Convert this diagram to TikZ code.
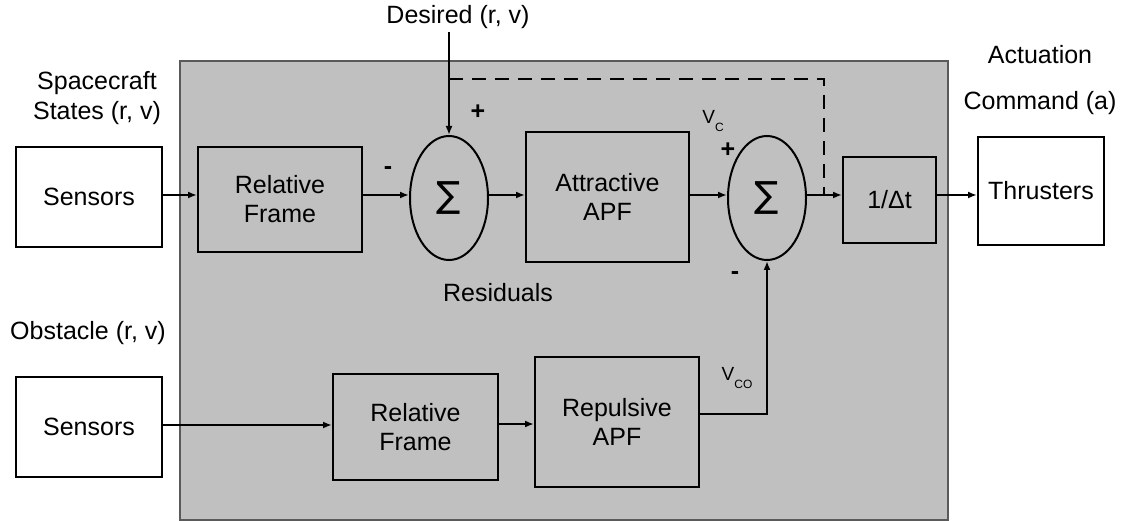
\documentclass[tikz,border=0pt]{standalone}
\usepackage{fontspec}
\setmainfont{Liberation Sans}
\newfontfamily\sigmafont{DejaVu Sans}
\usetikzlibrary{shapes.geometric,arrows.meta}

\definecolor{panel}{HTML}{C0C0C0}
\definecolor{panelrule}{HTML}{5A5A5A}

\tikzset{
  lbl/.style={font=\fontsize{25}{30}\selectfont, inner sep=0pt, align=center},
  blockbox/.style={draw, line width=2pt, font=\fontsize{25}{29}\selectfont, align=center, inner sep=0pt},
  sumnode/.style={draw, ellipse, line width=2pt, minimum width=78pt, minimum height=124pt, inner sep=0pt,
                  font=\sigmafont\fontsize{36}{36}\selectfont},
  sign/.style={font=\bfseries\fontsize{25}{25}\selectfont, inner sep=0pt},
  arr/.style={line width=2pt, -{Latex[length=9pt,width=7pt]}},
  wire/.style={line width=2pt},
  fb/.style={line width=2.5pt, dash pattern=on 14pt off 9pt}
}

\newcommand{\velsub}[1]{{\fontsize{19}{19}\selectfont V}\raisebox{-8pt}{\fontsize{12}{12}\selectfont #1}}

\begin{document}
\begin{tikzpicture}[x=1pt, y=-1pt]
  \useasboundingbox (0,0) rectangle (1125,521);

  % controller panel
  \fill[panel, draw=panelrule, line width=1.3pt] (180,61) rectangle (948,520);

  % signal row of the upper loop
  \coordinate (row) at (0,195);

  % upper path blocks
  \node[blockbox, fill=white, minimum width=146pt, minimum height=100pt] (s1) at (89,197) {Sensors};
  \node[blockbox, minimum width=164pt, minimum height=105pt] (rf1) at (280,199.5) {Relative\\Frame};
  \node[sumnode] (sum1) at (449,198) {∑};
  \node[blockbox, minimum width=163pt, minimum height=130pt] (apf) at (607.5,197) {Attractive\\APF};
  \node[sumnode] (sum2) at (767,198) {∑};
  \node[blockbox, minimum width=93pt, minimum height=86pt] (dt) at (889.5,200) {1/Δt};
  \node[blockbox, fill=white, minimum width=126pt, minimum height=108pt] (thr) at (1041,191) {Thrusters};

  % lower path blocks
  \node[blockbox, fill=white, minimum width=146pt, minimum height=100pt] (s2) at (89,427) {Sensors};
  \node[blockbox, minimum width=165pt, minimum height=105pt] (rf2) at (415.5,427) {Relative\\Frame};
  \node[blockbox, minimum width=164pt, minimum height=130pt] (rep) at (617,422) {Repulsive\\APF};

  % text labels
  \node[lbl] (scst) at (97,98) {Spacecraft\\States (r, v)};
  \node[lbl] (obst) at (88,333) {Obstacle (r, v)};
  \node[lbl] (des) at (458,17) {Desired (r, v)};
  \node[lbl, align=center] (act) at (1040,80) {Actuation\\[16pt]Command (a)};
  \node[lbl] (resid) at (498,293) {Residuals};
  \node[inner sep=0pt] (vc) at (713,121) {\velsub{C}};
  \node[inner sep=0pt] (vco) at (737,378) {\velsub{CO}};

  % signs at the summing junctions
  \node[sign] (p1) at (478,112) {+};
  \node[sign] (m1) at (388,171) {-};
  \node[sign] (p2) at (728,150) {+};
  \node[sign] (m2) at (735,276) {-};

  % upper path connectors
  \draw[arr] (s1.east |- row) -- (rf1.west |- row);
  \draw[arr] (rf1.east |- row) -- (sum1.west |- row);
  \draw[arr] (sum1.east |- row) -- (apf.west |- row);
  \draw[arr] (apf.east |- row) -- (sum2.west |- row);
  \draw[arr] (sum2.east |- row) -- (dt.west |- row);
  \draw[arr] (dt.east |- row) -- (thr.west |- row);

  % desired state input
  \coordinate (desin) at (449,32);
  \draw[arr] (desin) -- (sum1.north);

  % feed-forward of the desired state
  \coordinate (tapA) at (449,79);
  \coordinate (tapB) at (824,195);
  \draw[fb] (tapA) -| (tapB);

  % lower path connectors
  \draw[wire, -{Latex[length=9pt,width=7pt]}] (s2.east |- 0,425) -- (rf2.west |- 0,425);
  \draw[arr] (rf2.east |- 0,424) -- (rep.west |- 0,424);
  \draw[arr] (rep.east |- 0,414) -| (sum2.south);
\end{tikzpicture}
\end{document}
